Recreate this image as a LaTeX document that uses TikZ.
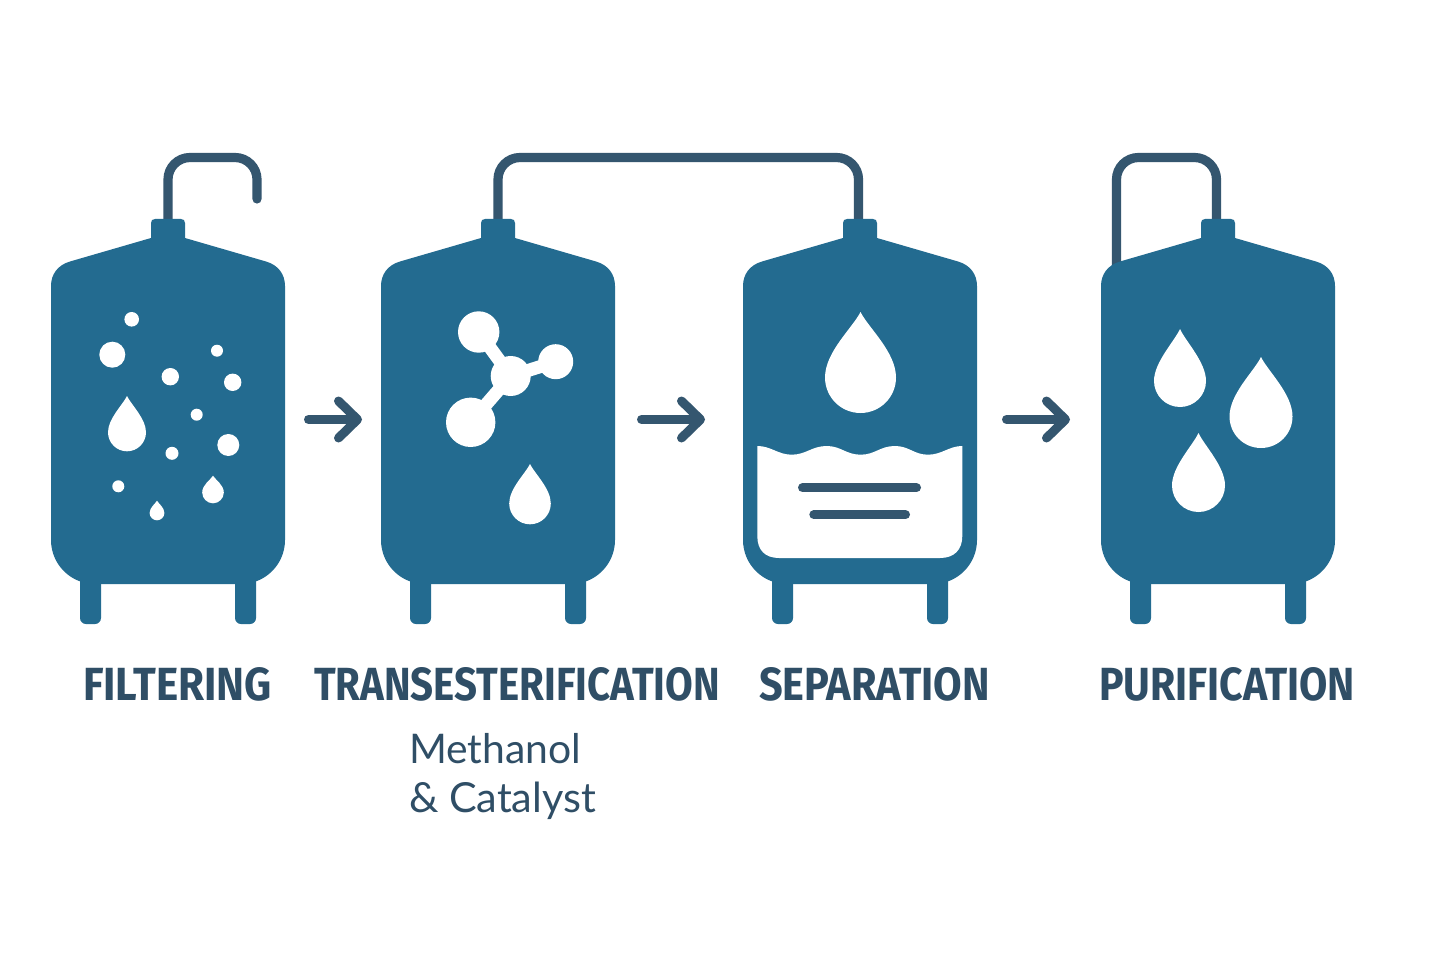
\documentclass[tikz,border=0pt]{standalone}
\usepackage{fontspec}
\usetikzlibrary{arrows.meta}
\newfontfamily\labfont{Fira Sans}[UprightFont=* Bold]
\newfontfamily\subfont{Lato}
\definecolor{tankblue}{HTML}{236B90}
\definecolor{pipeblue}{HTML}{34566F}
\definecolor{textblue}{HTML}{2F4E66}
\tikzset{
  pipe/.style={draw=pipeblue,line width=9.2pt,line cap=round,rounded corners=22pt},
  flow/.style={draw=pipeblue,line width=9pt,line cap=round,line join=round,-{Straight Barb[length=19pt,width=37pt,round]}},
  bar/.style={draw=pipeblue,line width=9pt,line cap=round},
  tankfill/.style={fill=tankblue,draw=none},
  hole/.style={fill=white,draw=none},
  bond/.style={draw=white,line width=13pt},
  head/.style={inner sep=0pt,outer sep=0pt,anchor=south west,text=textblue},
  sub/.style={inner sep=0pt,outer sep=0pt,anchor=base west,text=textblue},
}
\newcommand{\tankat}[1]{%
  \begin{scope}[shift={(#1,0)}]
    \path[tankfill,rounded corners=6pt] (-88,560) -- (-88,624) -- (-67,624) -- (-67,560) -- cycle;
    \path[tankfill,rounded corners=6pt] (67,560) -- (67,624) -- (88,624) -- (88,560) -- cycle;
    \path[tankfill]
      (-17,223) .. controls (-17,220.5) and (-15.5,219) .. (-13,219)
      -- (13,219) .. controls (15.5,219) and (17,220.5) .. (17,223)
      -- (17,238) -- (98,261.5)
      .. controls (110,265) and (117,274) .. (117,286)
      -- (117,540) .. controls (117,564.3) and (97.3,584) .. (73,584)
      -- (-73,584) .. controls (-97.3,584) and (-117,564.3) .. (-117,540)
      -- (-117,286)
      .. controls (-117,274) and (-110,265) .. (-98,261.5)
      -- (-17,238) -- cycle;
  \end{scope}}
% drop: centre x, tip y, bottom y, radius
\newcommand{\dropat}[4]{%
  \pgfmathsetmacro{\cyy}{#3-#4}
  \pgfmathsetmacro{\kk}{0.5523*#4}
  \path[hole] (#1,#2)
    .. controls ({#1+0.22*#4},{#2+0.24*(\cyy-#2)}) and ({#1+#4},{\cyy-0.72*#4}) .. ({#1+#4},\cyy)
    .. controls ({#1+#4},{\cyy+\kk}) and ({#1+\kk},#3) .. (#1,#3)
    .. controls ({#1-\kk},#3) and ({#1-#4},{\cyy+\kk}) .. ({#1-#4},\cyy)
    .. controls ({#1-#4},{\cyy-0.72*#4}) and ({#1-0.22*#4},{#2+0.24*(\cyy-#2)}) .. (#1,#2) -- cycle;}
\newcommand{\dotat}[3]{\path[hole] (#1,#2) circle[radius=#3];}
\begin{document}
\begin{tikzpicture}[x=1pt,y=-1pt]
\useasboundingbox (0,0) rectangle (1440,960);
\fill[white] (0,0) rectangle (1440,960);
% pipe coordinates
\coordinate (topA) at (168,225);
\coordinate (endA) at (257,199);
\coordinate (cornerA) at (212,157.5);
\coordinate (topB) at (498,225);
\coordinate (topC) at (858.5,225);
\coordinate (cornerB) at (678,157.5);
\coordinate (footD) at (1116.5,270);
\coordinate (topD) at (1216.5,225);
\coordinate (cornerD) at (1166,157.5);
\draw[pipe] (topA) |- (cornerA) -| (endA);
\draw[pipe] (topB) |- (cornerB) -| (topC);
\draw[pipe] (footD) |- (cornerD) -| (topD);
% tanks
\tankat{168}
\tankat{498}
\tankat{860}
\tankat{1218}
% flow arrows
\coordinate (a1s) at (308.5,419.5);
\coordinate (a1e) at (362,419.5);
\coordinate (a2s) at (641.5,419.5);
\coordinate (a2e) at (705,419.5);
\coordinate (a3s) at (1006.5,419.5);
\coordinate (a3e) at (1070,419.5);
\draw[flow] (a1s) -- (a1e);
\draw[flow] (a2s) -- (a2e);
\draw[flow] (a3s) -- (a3e);
% tank 1 contents
\dotat{131.7}{319.3}{7.3}
\dotat{112.3}{354.7}{13}
\dotat{217}{350.7}{6}
\dotat{170.3}{376.7}{8.7}
\dotat{232.7}{382.3}{8.7}
\dotat{196.7}{414.7}{6}
\dotat{172}{453.3}{6.5}
\dotat{228.3}{445}{11}
\dotat{118.3}{486.3}{6}
\dropat{127}{396}{451.3}{19}
\dropat{213}{475.7}{503.3}{10.8}
\dropat{157}{500.7}{520.3}{7.4}
% tank 2 contents
\coordinate (mA) at (478.7,332);
\coordinate (mB) at (555.7,361.7);
\coordinate (mC) at (510.7,376);
\coordinate (mD) at (470.7,422.3);
\draw[bond] (mC) -- (mA);
\draw[bond] (mC) -- (mB);
\draw[bond] (mC) -- (mD);
\dotat{478.7}{332}{20.7}
\dotat{555.7}{361.7}{17.5}
\dotat{510.7}{376}{20}
\dotat{470.7}{422.3}{24.7}
\dropat{530}{464}{524.3}{20.8}
% tank 3 contents
\dropat{860.5}{312}{413}{35.5}
\path[hole] (757.3,446)
  .. controls (771,446) and (778,454.7) .. (791.7,454.7)
  .. controls (806,454.7) and (812,446) .. (826.7,446)
  .. controls (841,446) and (846,454.7) .. (860.7,454.7)
  .. controls (875,454.7) and (880,446) .. (895,446)
  .. controls (909,446) and (914,454.7) .. (928,454.7)
  .. controls (942,454.7) and (949,446) .. (962.3,446)
  -- (962.3,536) .. controls (962.3,550) and (954,558) .. (940,558)
  -- (779,558) .. controls (765,558) and (757.3,550) .. (757.3,536) -- cycle;
\coordinate (b1s) at (802.5,487.7);
\coordinate (b1e) at (916.5,487.7);
\coordinate (b2s) at (813.8,514.7);
\coordinate (b2e) at (905.5,514.7);
\draw[bar] (b1s) -- (b1e);
\draw[bar] (b2s) -- (b2e);
% tank 4 contents
\dropat{1180}{329}{407}{26}
\dropat{1261}{357}{448}{31.5}
\dropat{1198.5}{433}{512}{26.5}
% labels
\node[head] (lblA) at (83,701) {\resizebox{189pt}{33pt}{\labfont FILTERING}};
\node[head] (lblB) at (314,701) {\resizebox{406pt}{33pt}{\labfont TRANSESTERIFICATION}};
\node[head] (lblC) at (759,701) {\resizebox{231pt}{33pt}{\labfont SEPARATION}};
\node[head] (lblD) at (1099,701) {\resizebox{256pt}{33pt}{\labfont PURIFICATION}};
\node[sub] (subA) at (409,763) {\resizebox{172pt}{!}{\subfont Methanol}};
\node[sub] (subB) at (409,812) {\resizebox{187pt}{!}{\subfont \& Catalyst}};
\end{tikzpicture}
\end{document}
